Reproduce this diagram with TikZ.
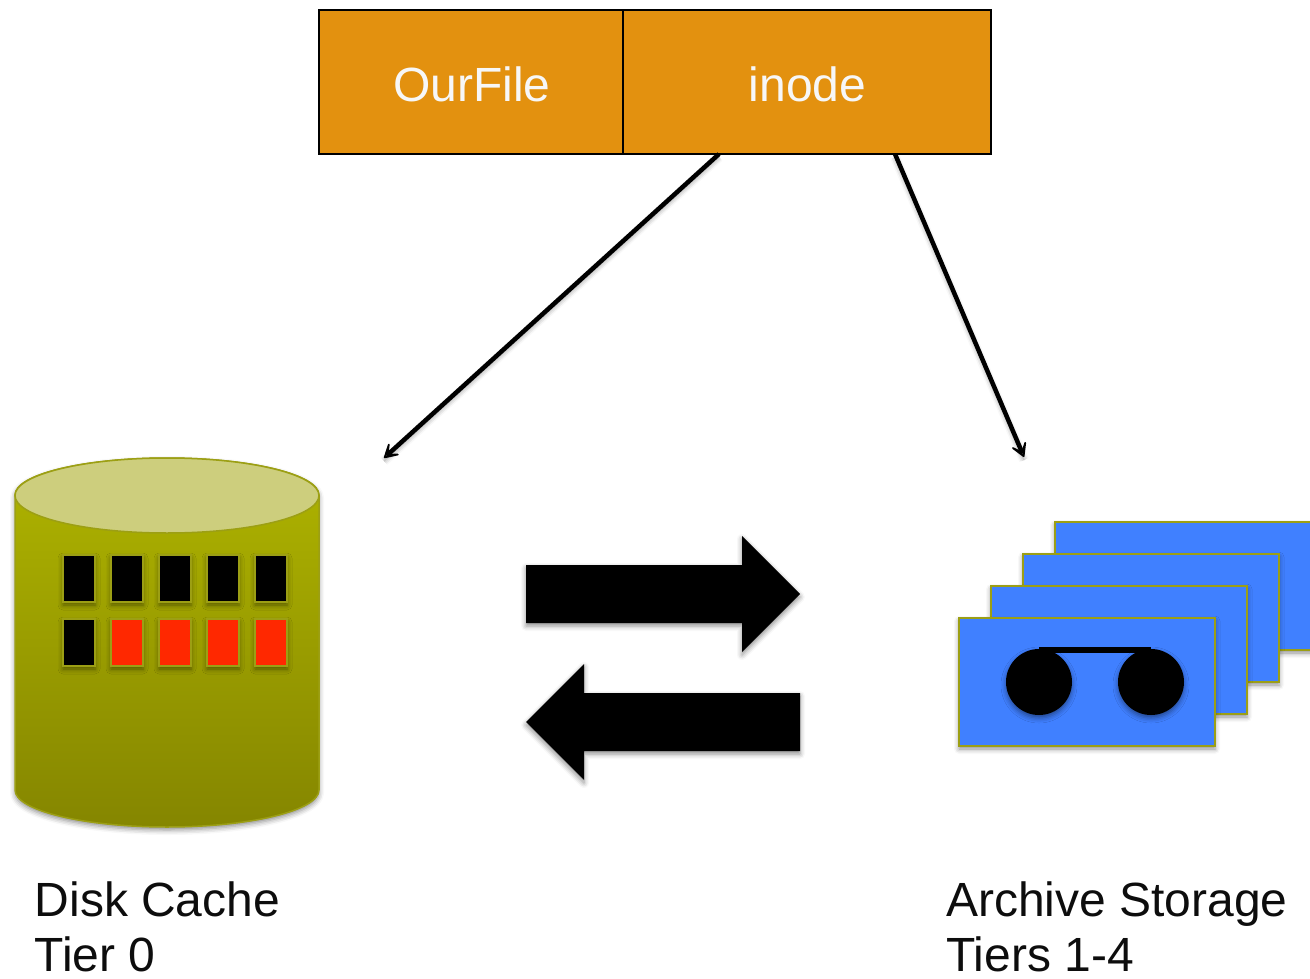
\documentclass[tikz,border=0pt]{standalone}
\usepackage{fontspec}
\setmainfont{Liberation Sans}
\usepackage{xcolor}
\usetikzlibrary{arrows.meta,calc,positioning,shadows.blur}
\definecolor{fileorange}{HTML}{E3910F}
\definecolor{diskolive}{HTML}{AFB400}
\definecolor{diskdark}{HTML}{858600}
\definecolor{disktop}{HTML}{CDCE7D}
\definecolor{rimolive}{HTML}{9C9F14}
\definecolor{tapeblue}{HTML}{4080FF}
\definecolor{blockred}{HTML}{FF2800}
\tikzset{
	softshadow/.style={
			blur shadow={shadow xshift=0pt, shadow yshift=-3pt, shadow blur radius=5pt, shadow opacity=45}
		},
	filebox/.style={
			draw=black, line width=2pt, fill=fileorange, outer sep=0pt, inner sep=0pt,
			minimum height=144pt
		},
	filetext/.style={
			text=white!97!black, inner sep=0pt, font=\fontsize{48}{54}\selectfont
		},
	cacheblock/.style={
			draw=rimolive, line width=2pt, outer sep=0pt, inner sep=0pt,
			minimum width=32pt, minimum height=47pt, softshadow
		},
	tiertext/.style={
			anchor=west, align=left, inner sep=0pt, text=black!95, font=\fontsize{48}{54.5}\selectfont
		},
	pointer/.style={
			-{Stealth[length=21pt, width=24pt, inset=14pt, round]}, line width=4.5pt, softshadow
		}
}

\begin{document}
\begin{tikzpicture}[x=1pt, y=-1pt]
			\useasboundingbox (0,0) rectangle (1310,979);

			% Draw the file record
			\node[filebox, minimum width=304pt] (ourfile) at (471,82) {};
			\node[filebox, minimum width=368pt, right=0pt of ourfile] (inode) {};
			\node[filetext] (filename) at (472,84) {OurFile};
			\node[filetext] (inodename) at (807.5,84) {inode};

			% Draw the disk
			\filldraw[draw=rimolive, line width=1.5pt, top color=diskolive, bottom color=diskdark, softshadow]
				(15,495) -- (15,790) arc[start angle=180, end angle=360, x radius=152, y radius=-37]
				-- (319,495) arc[start angle=0, end angle=180, x radius=152, y radius=-37] -- cycle;
			\filldraw[draw=rimolive, line width=1.5pt, fill=disktop] (167,495.5) ellipse[x radius=152, y radius=37.5];

			% Draw the blocks on the disk
			\foreach \col/\x in {a/79,b/127,c/175,d/223,e/271}
				\node[cacheblock, fill=black] (upper\col) at (\x,578.5) {};
			\node[cacheblock, fill=black] (lowera) at (79,642.5) {};
			\foreach \col/\x in {b/127,c/175,d/223,e/271}
				\node[cacheblock, fill=blockred] (lower\col) at (\x,642.5) {};

			% Draw the tapes, back to front
			\foreach \i in {3,2,1,0}
				\filldraw[fill=tapeblue, draw=rimolive, line width=2pt, softshadow]
					({959+32*\i},{618-32*\i}) rectangle ++(256,128);
			\fill[black, softshadow] (1039,682) circle (33pt);
			\fill[black, softshadow] (1151,682) circle (33pt);
			\fill[black] (1039,647) rectangle (1151,652.5);

			% Draw the two block arrows
			\fill[black, softshadow] (526,565) -- (742,565) -- (742,536) -- (800,594) -- (742,652) -- (742,623) -- (526,623) -- cycle;
			\fill[black, softshadow] (800,693) -- (584,693) -- (584,664) -- (526,722) -- (584,780) -- (584,751) -- (800,751) -- cycle;

			% Draw the pointers from the inode
			\coordinate (diskend) at (384,458);
			\coordinate (tapeend) at (1024,457);
			\draw[pointer] ($(inode.south west)+(96,0)$) -- (diskend);
			\draw[pointer] ($(inode.south west)+(272,0)$) -- (tapeend);

			% Labels under the tiers
			\node[tiertext] (disklabel) at (34.5,927) {Disk Cache\\Tier 0};
			\node[tiertext] (tapelabel) at (946,927) {Archive Storage\\Tiers 1-4};
		\end{tikzpicture}
\end{document}
